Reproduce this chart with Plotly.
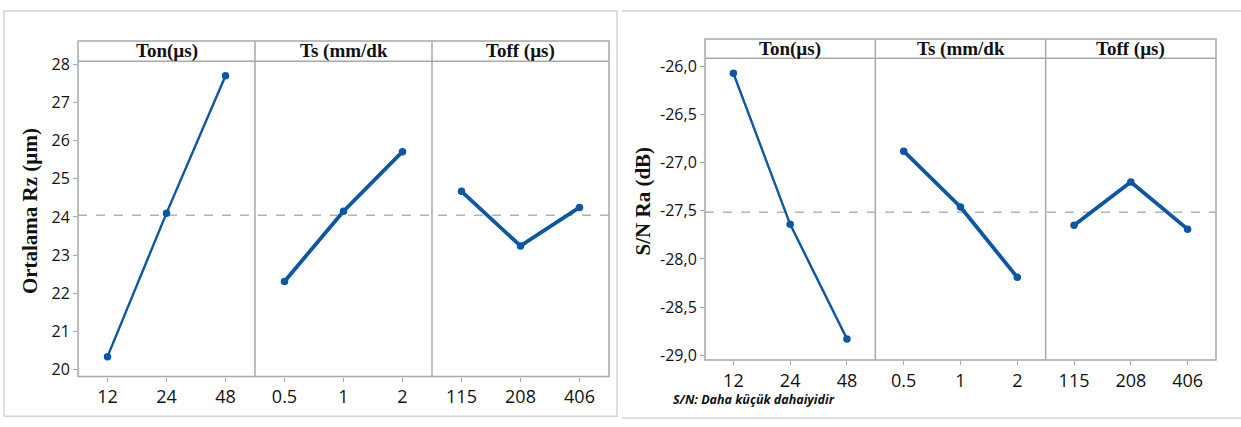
import plotly.graph_objects as go
import numpy as np

# ---------------- data ----------------
factors = ["Ton(µs)", "Ts (mm/dk", "Toff (µs)"]
ton_levels = ["12", "24", "48"]
ts_levels = ["0.5", "1", "2"]
toff_levels = ["115", "208", "406"]

rz_ton = [20.34, 24.10, 27.70]
rz_ts = [22.31, 24.15, 25.71]
rz_toff = [24.67, 23.24, 24.25]

sn_ton = [-26.07, -27.64, -28.83]
sn_ts = [-26.88, -27.46, -28.19]
sn_toff = [-27.65, -27.20, -27.69]

rz_ticks = [20, 21, 22, 23, 24, 25, 26, 27, 28]
rz_ticktext = ["20", "21", "22", "23", "24", "25", "26", "27", "28"]
sn_ticks = [-29.0, -28.5, -28.0, -27.5, -27.0, -26.5, -26.0]
sn_ticktext = ["-29,0", "-28,5", "-28,0", "-27,5", "-27,0", "-26,5", "-26,0"]

left_ytitle = "Ortalama Rz (µm)"
right_ytitle = "S/N Ra (dB)"
footnote = "S/N: Daha küçük dahaiyidir"

# ---------------- layout helpers ----------------
W, H = 1241, 427
def px(x):
    return x / W
def py(y):
    return 1 - y / H

BLUE = "#0B56A5"
FRAME = "#A8A8A8"
TICKFONT = dict(family="Open Sans", size=16, color="#111")
XTICKFONT = dict(family="Open Sans", size=18, color="#111")

fig = go.Figure()
layout = dict(
    width=W, height=H,
    margin=dict(l=0, r=0, t=0, b=0),
    paper_bgcolor="white", plot_bgcolor="rgba(0,0,0,0)",
    showlegend=False,
)
shapes = []
annotations = []

charts = [
    dict(levels=[ton_levels, ts_levels, toff_levels],
         values=[rz_ton, rz_ts, rz_toff],
         x0=78, x1=609, ytop=34, yhead=55, ybot=381,
         yrange=[19.82, 28.08], ticks=rz_ticks, ticktext=rz_ticktext,
         ytitle=left_ytitle, title_x=30, title_y=210, yname="y", xstart=1),
    dict(levels=[ton_levels, ts_levels, toff_levels],
         values=[sn_ton, sn_ts, sn_toff],
         x0=705, x1=1216, ytop=32, yhead=52, ybot=364,
         yrange=[-29.05, -25.915], ticks=sn_ticks, ticktext=sn_ticktext,
         ytitle=right_ytitle, title_x=643, title_y=200, yname="y2", xstart=4),
]

line_widths = [2.4, 3.8, 3.8]

for c in charts:
    pw = (c["x1"] - c["x0"]) / 3
    yax_key = "yaxis" if c["yname"] == "y" else "yaxis2"
    first_x = "x" if c["xstart"] == 1 else f"x{c['xstart']}"
    layout[yax_key] = dict(
        domain=[py(c["ybot"]), py(c["yhead"])],
        range=c["yrange"], anchor=first_x,
        tickvals=c["ticks"], ticktext=c["ticktext"],
        ticks="outside", ticklen=4, tickcolor=FRAME, tickfont=TICKFONT,
        showgrid=False, zeroline=False, showline=False,
    )
    for i in range(3):
        n = c["xstart"] + i
        xname = "x" if n == 1 else f"x{n}"
        xkey = "xaxis" if n == 1 else f"xaxis{n}"
        layout[xkey] = dict(
            domain=[px(c["x0"] + i * pw), px(c["x0"] + (i + 1) * pw)],
            type="category", range=[-0.5, 2.5], anchor=c["yname"],
            ticks="outside", ticklen=4, tickcolor=FRAME, tickfont=XTICKFONT,
            showgrid=False, zeroline=False, showline=False,
        )
        fig.add_trace(go.Scatter(
            x=c["levels"][i], y=c["values"][i], xaxis=xname, yaxis=c["yname"],
            mode="lines+markers",
            line=dict(color=BLUE, width=line_widths[i]),
            marker=dict(color=BLUE, size=7.5),
        ))
        annotations.append(dict(
            x=px(c["x0"] + (i + 0.5) * pw), y=py((c["ytop"] + c["yhead"]) / 2),
            xref="paper", yref="paper", text=f"<b>{factors[i]}</b>",
            showarrow=False, xanchor="center", yanchor="middle",
            font=dict(family="Liberation Serif", size=19, color="#111"),
        ))
        if i > 0:
            xd = c["x0"] + i * pw
            shapes.append(dict(type="line", xref="paper", yref="paper",
                               x0=px(xd), x1=px(xd), y0=py(c["ytop"]), y1=py(c["ybot"]),
                               line=dict(color=FRAME, width=1.5)))
    grand_mean = float(np.mean(c["values"][0]))
    shapes.append(dict(type="line", xref="paper", yref=c["yname"],
                       x0=px(c["x0"]), x1=px(c["x1"]), y0=grand_mean, y1=grand_mean,
                       line=dict(color="#8c8c8c", width=1, dash="dash"), layer="below"))
    shapes.append(dict(type="rect", xref="paper", yref="paper",
                       x0=px(c["x0"]), x1=px(c["x1"]), y0=py(c["ybot"]), y1=py(c["ytop"]),
                       line=dict(color=FRAME, width=1.5)))
    shapes.append(dict(type="line", xref="paper", yref="paper",
                       x0=px(c["x0"]), x1=px(c["x1"]), y0=py(c["yhead"]), y1=py(c["yhead"]),
                       line=dict(color=FRAME, width=1.5)))
    annotations.append(dict(
        x=px(c["title_x"]), y=py(c["title_y"]), xref="paper", yref="paper",
        text=f"<b>{c['ytitle']}</b>", textangle=-90, showarrow=False,
        xanchor="center", yanchor="middle",
        font=dict(family="Liberation Serif", size=21, color="#111"),
    ))

shapes.append(dict(type="rect", xref="paper", yref="paper",
                   x0=px(4), x1=px(617), y0=py(422), y1=py(3),
                   line=dict(color="#D4D4D4", width=1.5)))
shapes.append(dict(type="line", xref="paper", yref="paper",
                   x0=px(622), x1=1, y0=py(3), y1=py(3),
                   line=dict(color="#D4D4D4", width=1.5)))
shapes.append(dict(type="line", xref="paper", yref="paper",
                   x0=px(622), x1=1, y0=py(424), y1=py(424),
                   line=dict(color="#D4D4D4", width=1.5)))

annotations.append(dict(
    x=px(671), y=py(405), xref="paper", yref="paper",
    text=f"<b><i>{footnote}</i></b>", showarrow=False,
    xanchor="left", yanchor="middle",
    font=dict(family="Open Sans", size=12.5, color="#111"),
))

layout["shapes"] = shapes
layout["annotations"] = annotations
fig.update_layout(**layout)
fig.write_html("out.html", config={"displayModeBar": False},
               post_script="document.body.style.margin='0';document.body.style.overflow='hidden';")
